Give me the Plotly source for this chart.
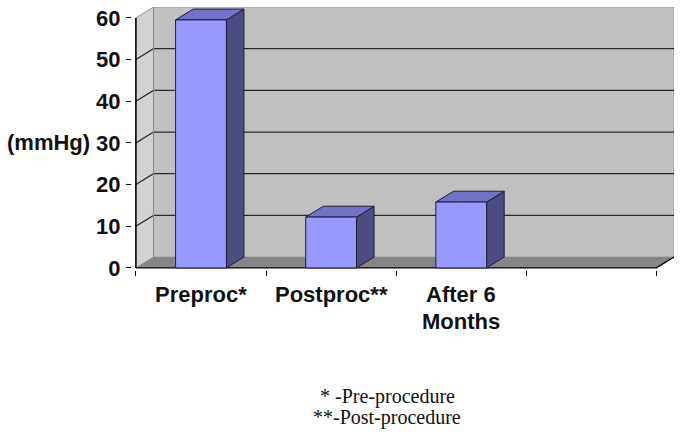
import plotly.graph_objects as go

# ---- data -------------------------------------------------------------
categories = ["Preproc*", "Postproc**", "After 6<br>Months", ""]
values = [59.5, 12.2, 15.8]
y_ticks = [0, 10, 20, 30, 40, 50, 60]
y_label = "(mmHg)"
footnotes = ["* -Pre-procedure", "**-Post-procedure"]

# ---- style ------------------------------------------------------------
DX, DY = 0.135, 2.6          # pseudo-3D depth offset in axis units
BAR_W = 0.39
X0, X1 = -0.5, len(categories) - 0.5
YMAX = y_ticks[-1]

FRONT = "#9999FF"
SIDE = "#4C4C80"
TOP = "#7373C6"
EDGE = "#1E1E3C"
BACK = "#C0C0C0"
FLOOR = "#858585"
LEFT = "#D2D2D2"
GRID = "#2A2A2A"

SANS = "Liberation Sans, Arial"
SERIF = "Liberation Serif, Times New Roman"

W, H = 682, 446
L, R, T, B = 132, 8, 7, 176

fig = go.Figure()


def poly(xs, ys, fill, line="rgba(0,0,0,0)", width=0):
    fig.add_trace(go.Scatter(
        x=xs + [xs[0]], y=ys + [ys[0]], mode="lines", fill="toself",
        fillcolor=fill, line=dict(color=line, width=width),
        hoverinfo="skip", showlegend=False))


def seg(xs, ys, color, width=1.0):
    fig.add_trace(go.Scatter(
        x=xs, y=ys, mode="lines", line=dict(color=color, width=width),
        hoverinfo="skip", showlegend=False))


# walls and floor
poly([X0 + DX, X1 + DX, X1 + DX, X0 + DX], [DY, DY, YMAX + DY, YMAX + DY], BACK, "#9A9A9A", 1)
poly([X0, X0 + DX, X0 + DX, X0], [0, DY, YMAX + DY, YMAX], LEFT, "#9A9A9A", 1)
poly([X0, X1, X1 + DX, X0 + DX], [0, 0, DY, DY], FLOOR)

# gridlines on back and left walls
for t in y_ticks[1:-1]:
    seg([X0, X0 + DX, X1 + DX], [t, t + DY, t + DY], GRID, 1.3)
seg([X0 + DX, X0 + DX], [DY, YMAX + DY], "#8A8A8A", 1)

# axis lines
seg([X0, X0], [0, YMAX], "#000000", 1.5)
seg([X0, X1, X1 + DX], [0, 0, DY], "#000000", 1.3)

# bars drawn as three faces each
for i, v in enumerate(values):
    a, b = i - BAR_W / 2, i + BAR_W / 2
    poly([b, b + DX, b + DX, b], [0, DY, v + DY, v], SIDE, EDGE, 1)
    poly([a, b, b + DX, a + DX], [v, v, v + DY, v + DY], TOP, EDGE, 1)
    poly([a, b, b, a], [0, 0, v, v], FRONT, EDGE, 1)

# category labels
for i, lab in enumerate(categories):
    for k, line in enumerate(lab.split("<br>")):
        if not line:
            continue
        fig.add_annotation(
            x=i, y=0, xref="x", yref="y", text=line, showarrow=False,
            yanchor="top", yshift=-13 - 27 * k, borderpad=0,
            font=dict(family=SANS, size=22, color="#111111", weight="bold"))

# axis unit label
fig.add_annotation(
    x=0, y=30, xref="paper", yref="y", text=y_label, showarrow=False,
    xanchor="right", xshift=-41, borderpad=0,
    font=dict(family=SANS, size=22, color="#111111", weight="bold"))

# footnotes below the chart
for k, note in enumerate(footnotes):
    px, py = 387, 409 + 21 * k
    fig.add_annotation(
        x=(px - L) / (W - L - R), y=1 - (py - T) / (H - T - B),
        xref="paper", yref="paper", text=note, showarrow=False, borderpad=0,
        font=dict(family=SERIF, size=20, color="#111111"))

fig.update_layout(
    width=W, height=H, margin=dict(l=L, r=R, t=T, b=B),
    paper_bgcolor="white", plot_bgcolor="white",
    xaxis=dict(range=[X0 - 0.03, X1 + DX], showgrid=False, zeroline=False,
               tickvals=[X0 + j for j in range(len(categories) + 1)],
               ticks="outside", ticklen=5, tickcolor="#000000",
               showticklabels=False, fixedrange=True),
    yaxis=dict(range=[-0.5, YMAX + DY], showgrid=False, zeroline=False,
               tickvals=y_ticks, ticks="outside", ticklen=5, tickcolor="#000000",
               tickfont=dict(family=SANS, size=22, color="#111111", weight="bold"),
               ticklabelstandoff=1, fixedrange=True),
)

fig.write_html("out.html")
